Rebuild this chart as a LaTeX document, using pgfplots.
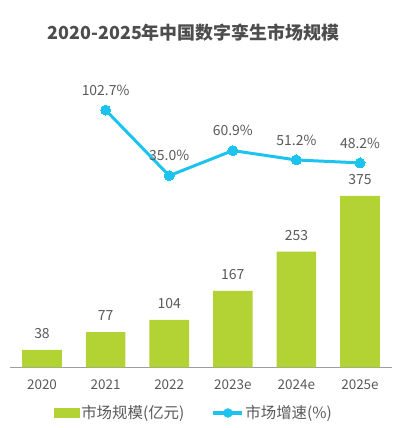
\documentclass[border=0pt]{standalone}
\usepackage{pgfplots}
\pgfplotsset{compat=1.18}
\usepackage{fontspec}
\setmainfont{Noto Sans CJK SC}
\definecolor{barcol}{HTML}{B3D334}
\definecolor{linecol}{HTML}{1DC3EF}
\definecolor{txt}{HTML}{595959}
\definecolor{ttl}{HTML}{4D4D4D}
\definecolor{axc}{HTML}{9E9E9E}
\pgfplotstableread{
x y
0 38
1 77
2 104
3 167
4 253
5 375
}\bars
\pgfplotstableread{
x y
1 102.7
2 35.0
3 60.9
4 51.2
5 48.2
}\growth
\begin{document}
\begin{tikzpicture}
\useasboundingbox (0bp,0bp) rectangle (400bp,428bp);
\node[font=\bfseries\fontsize{18}{20}\selectfont, text=ttl] at (193.5bp,395bp) {2020-2025年中国数字孪生市场规模};
\begin{axis}[
  at={(10.2bp,60.7bp)}, anchor=south west,
  scale only axis, width=381.6bp, height=182.8bp,
  xmin=-0.5, xmax=5.5, ymin=0, ymax=400,
  clip=false,
  axis x line=bottom, axis y line=none,
  x axis line style={-, draw=axc, line width=1.3bp},
  xtick={0,1,2,3,4,5},
  xticklabels={2020,2021,2022,2023e,2024e,2025e},
  major tick length=0pt,
  xticklabel style={anchor=center, yshift=-17.7bp, font=\fontsize{13.5}{15}\selectfont, text=txt},
  /pgf/number format/assume math mode=true,
  legend columns=2,
  legend style={at={(0.4805,-0.25)}, anchor=center, draw=none, fill=none,
    font=\fontsize{15.5}{17}\selectfont, text=txt, inner sep=0pt,
    nodes={inner sep=1.5bp},
    /tikz/every even column/.append style={column sep=26bp}},
]
\addplot[ybar, bar width=39.6bp, fill=barcol, draw=none,
  nodes near coords,
  every node near coord/.style={anchor=center, yshift=16.5bp, font=\fontsize{14}{16}\selectfont, text=txt},
  legend image code/.code={\fill[barcol] (0bp,-5bp) rectangle (26bp,5bp);}
] table[x=x,y=y] {\bars};
\addlegendentry{市场规模(亿元)}
\addlegendimage{legend image code/.code={\draw[linecol, line width=3bp] (0bp,0bp) -- (29bp,0bp); \fill[linecol] (14.5bp,0bp) circle (4.5bp);}}
\addlegendentry{市场增速(\%)}
\end{axis}
\begin{axis}[
  at={(10.2bp,218.35bp)}, anchor=south west,
  scale only axis, width=381.6bp, height=116.4bp,
  xmin=-0.5, xmax=5.5, ymin=0, ymax=120,
  clip=false, axis lines=none,
  /pgf/number format/assume math mode=true,
]
\addplot[linecol, line width=3bp, mark=*, mark size=5bp, mark options={fill=linecol, draw=linecol, line width=0pt},
  nodes near coords={\pgfmathprintnumber[fixed, precision=1, fixed zerofill]{\pgfplotspointmeta}\%},
  every node near coord/.style={anchor=center, yshift=20bp, font=\fontsize{14}{16}\selectfont, text=txt}
] table[x=x,y=y] {\growth};
\end{axis}
\end{tikzpicture}
\end{document}
